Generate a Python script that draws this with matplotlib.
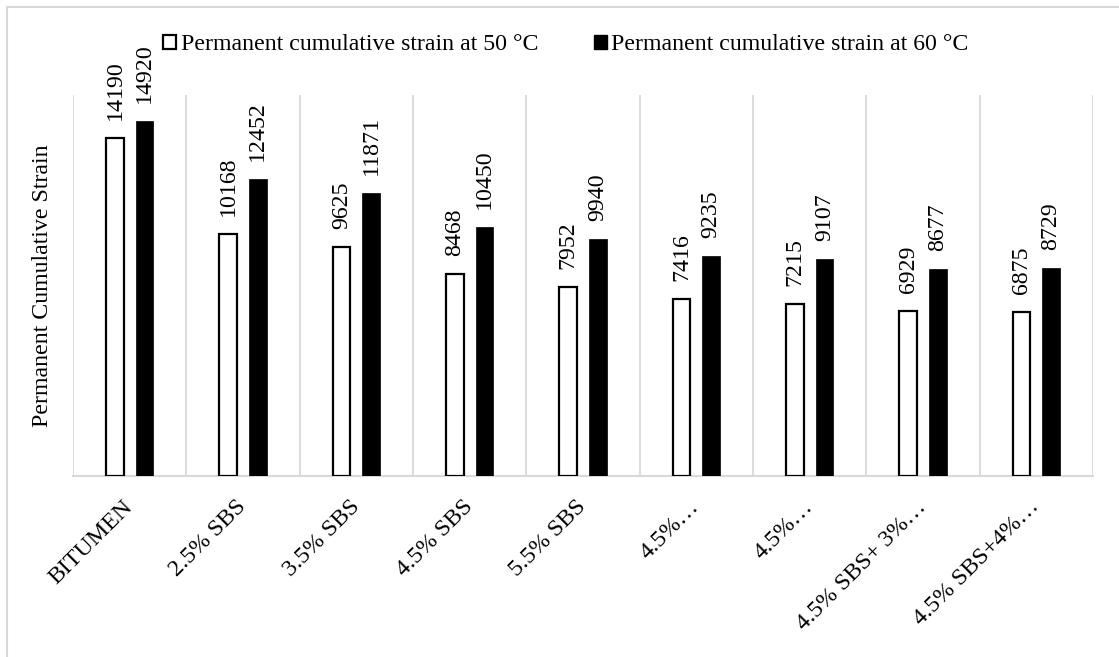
import matplotlib
matplotlib.use("Agg")
import matplotlib.pyplot as plt
from matplotlib.patches import Patch
from matplotlib.lines import Line2D
import numpy as np

plt.rcParams['font.family'] = ['Liberation Serif', 'DejaVu Serif']

categories = ["BITUMEN", "2.5% SBS", "3.5% SBS", "4.5% SBS", "5.5% SBS",
              "4.5%…", "4.5%…", "4.5% SBS+ 3%…", "4.5% SBS+4%…"]
strain_50 = [14190, 10168, 9625, 8468, 7952, 7416, 7215, 6929, 6875]
strain_60 = [14920, 12452, 11871, 10450, 9940, 9235, 9107, 8677, 8729]
series_names = ["Permanent cumulative strain at 50 °C",
                "Permanent cumulative strain at 60 °C"]
y_label = "Permanent Cumulative Strain"

W, H = 1119, 657
fig = plt.figure(figsize=(W / 100, H / 100), dpi=100)
ax = fig.add_axes([73 / W, 1 - 476 / H, (1093 - 73) / W, (476 - 95) / H])

x = np.arange(len(categories))
bw = 0.155
off = 0.13
FS = 17.2

b1 = ax.bar(x - off, strain_50, width=bw, color='white', edgecolor='black',
            linewidth=1.6, zorder=3)
b2 = ax.bar(x + off, strain_60, width=bw, color='black', edgecolor='black',
            linewidth=0.5, zorder=3)

for bars, vals in ((b1, strain_50), (b2, strain_60)):
    for rect, v in zip(bars, vals):
        ax.annotate(f"{v}", (rect.get_x() + rect.get_width() / 2, v),
                    xytext=(0, 13), textcoords='offset points',
                    rotation=90, ha='center', va='bottom', fontsize=FS)

ax.set_xlim(-0.5, len(categories) - 0.5)
ax.set_ylim(0, 16000)
ax.set_yticks([])
for b in np.arange(-0.5, len(categories), 1.0):
    ax.axvline(b, color='#d9d9d9', lw=1.3, zorder=1)

for s in ('top', 'right', 'left'):
    ax.spines[s].set_visible(False)
ax.spines['bottom'].set_color('#d9d9d9')
ax.spines['bottom'].set_linewidth(1.5)

ax.set_xticks(x)
ax.set_xticklabels(categories, rotation=45, ha='right', va='center',
                   rotation_mode='anchor', fontsize=FS)
ax.tick_params(axis='x', length=0, pad=20)

ax.set_ylabel(y_label, fontsize=FS)
ax.yaxis.set_label_coords(-20 / (1093 - 73), 0.5)

handles = [Patch(facecolor='white', edgecolor='black', linewidth=1.6),
           Patch(facecolor='black', edgecolor='black')]
fig.legend(handles, series_names, loc='center', bbox_to_anchor=(566 / W, 1 - 45 / H),
           ncol=2, frameon=False, fontsize=FS, handlelength=0.55, handleheight=0.55,
           handletextpad=0.2, columnspacing=2.3, borderaxespad=0)

# outer border (top and left)
fig.add_artist(Line2D([7 / W, 1], [1 - 7 / H, 1 - 7 / H], color='#d9d9d9', lw=1.5,
                      transform=fig.transFigure))
fig.add_artist(Line2D([7 / W, 7 / W], [0, 1 - 7 / H], color='#d9d9d9', lw=1.5,
                      transform=fig.transFigure))

fig.savefig("out.png", dpi=100, facecolor='white')
